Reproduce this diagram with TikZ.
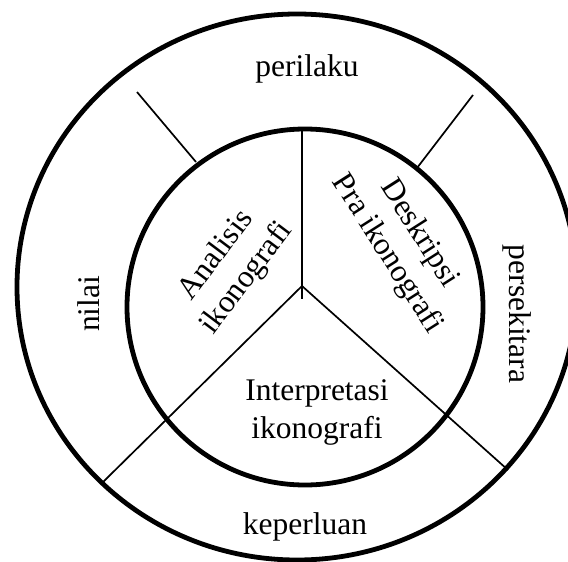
\documentclass[tikz,border=0pt]{standalone}
\usepackage{fontspec}
\setmainfont{Liberation Serif}
\begin{document}
\begin{tikzpicture}[x=1pt,y=1pt,
  ring/.style={line width=4.8pt},
  divider/.style={line width=1.7pt},
  lbl/.style={font=\fontsize{31.5}{38}\selectfont, inner sep=0pt, align=center}]
\useasboundingbox (0,0) rectangle (568,-562);
\clip (0,0) rectangle (568,-562);
% named points
\coordinate (v) at (302,-286);
\coordinate (vt) at (302,-130);
\coordinate (vb) at (302,-299);
\coordinate (ll) at (101,-484);
\coordinate (lr) at (508,-470);
\coordinate (ula) at (196,-162);
\coordinate (ulb) at (137,-92);
\coordinate (ura) at (417,-168);
\coordinate (urb) at (473,-95);
% dividers
\draw[divider] (vt) -- (vb);
\draw[divider] (v) -- (ll);
\draw[divider] (v) -- (lr);
\draw[divider] (ula) -- (ulb);
\draw[divider] (ura) -- (urb);
% rings
\draw[ring] (297,-287) ellipse [x radius=280, y radius=273];
\draw[ring] (305,-307) circle [radius=178];
% labels
\node[lbl, anchor=base] (perilaku) at (307,-76) {perilaku};
\node[lbl, anchor=base] (keperluan) at (305,-534) {keperluan};
\node[lbl, rotate=90] (nilai) at (89,-304) {nilai};
\node[lbl, rotate=-90] (persekitara) at (517,-314) {persekitara};
\node[lbl] (interp) at (317,-412) {Interpretasi\\ikonografi};
\node[lbl, rotate=53] (analisis) at (232,-267) {Analisis\\ikonografi};
\node[lbl, rotate=-57.5] (deskripsi) at (403,-244) {Deskripsi\\Pra ikonografi};
\end{tikzpicture}
\end{document}
